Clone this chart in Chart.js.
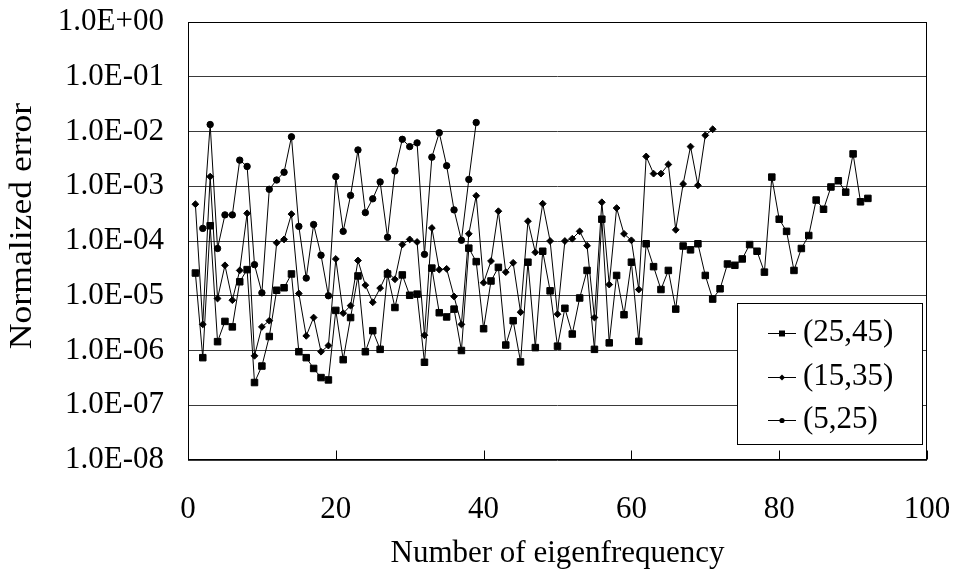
<!DOCTYPE html>
<html>
<head>
<meta charset="utf-8">
<script src="https://cdn.jsdelivr.net/npm/chart.js@4.4.1/dist/chart.umd.min.js"></script>
<style>
  html, body { margin: 0; padding: 0; background: #ffffff; }
  #c { display: block; }
</style>
</head>
<body>
<canvas id="c" width="955" height="578"></canvas>
<script>
// ---------- data ----------
const seriesNames = ['(25,45)', '(15,35)', '(5,25)'];

// eigenfrequency number n = 1, 2, 3, ... (index + 1)
const err25_45 = [
  2.6e-5, 7.4e-7, 1.9e-4, 1.45e-6, 3.4e-6, 2.7e-6, 1.8e-5, 3.0e-5, 2.6e-7, 5.2e-7,
  1.8e-6, 1.26e-5, 1.4e-5, 2.5e-5, 9.5e-7, 7.4e-7, 4.7e-7, 3.2e-7, 2.9e-7, 5.4e-6,
  6.8e-7, 4.0e-6, 2.3e-5, 9.5e-7, 2.3e-6, 1.05e-6, 2.5e-5, 6.1e-6, 2.4e-5, 1.02e-5,
  1.07e-5, 6.1e-7, 3.2e-5, 4.9e-6, 4.1e-6, 5.7e-6, 1.0e-6, 7.4e-5, 4.2e-5, 2.5e-6,
  1.86e-5, 3.3e-5, 1.26e-6, 3.5e-6, 6.2e-7, 4.1e-5, 1.13e-6, 6.5e-5, 1.23e-5, 1.2e-6,
  5.9e-6, 2.0e-6, 9.1e-6, 2.9e-5, 1.05e-6, 2.5e-4, 1.38e-6, 2.35e-5, 4.5e-6, 4.1e-5,
  1.47e-6, 8.9e-5, 3.4e-5, 1.3e-5, 2.9e-5, 5.7e-6, 8.1e-5, 6.9e-5, 8.9e-5, 2.35e-5,
  8.7e-6, 1.34e-5, 3.8e-5, 3.6e-5, 4.7e-5, 8.6e-5, 6.5e-5, 2.7e-5, 1.47e-3, 2.5e-4,
  1.5e-4, 2.9e-5, 7.3e-5, 1.26e-4, 5.6e-4, 3.8e-4, 9.7e-4, 1.26e-3, 7.8e-4, 3.9e-3,
  5.2e-4, 6.0e-4
];
const err15_35 = [
  4.7e-4, 3.0e-6, 1.5e-3, 8.9e-6, 3.6e-5, 8.3e-6, 2.9e-5, 3.2e-4, 8.0e-7, 2.7e-6,
  3.5e-6, 9.3e-5, 1.07e-4, 3.1e-4, 1.1e-5, 1.85e-6, 4.0e-6, 9.5e-7, 1.23e-6, 4.7e-5,
  4.8e-6, 6.6e-6, 4.4e-5, 1.56e-5, 7.6e-6, 1.38e-5, 2.7e-5, 2.0e-5, 8.6e-5, 1.07e-4,
  9.6e-5, 1.9e-6, 1.73e-4, 3.0e-5, 3.1e-5, 9.7e-6, 3.0e-6, 1.35e-4, 6.7e-4, 1.73e-5,
  4.3e-5, 3.5e-4, 2.7e-5, 4.0e-5, 5.0e-6, 2.3e-4, 6.2e-5, 4.8e-4, 1.0e-4, 4.6e-6,
  1.0e-4, 1.1e-4, 1.5e-4, 8.2e-5, 4.0e-6, 5.1e-4, 1.6e-5, 4.0e-4, 1.35e-4, 1.03e-4,
  1.3e-5, 3.5e-3, 1.7e-3, 1.7e-3, 2.5e-3, 1.6e-4, 1.1e-3, 5.3e-3, 1.04e-3, 8.5e-3,
  1.1e-2
];
const err5_25 = [
  null, 1.7e-4, 1.34e-2, 7.3e-5, 3.0e-4, 3.0e-4, 3.0e-3, 2.3e-3, 3.7e-5, 1.13e-5,
  8.8e-4, 1.3e-3, 1.8e-3, 8.0e-3, 1.85e-4, 2.1e-5, 2.0e-4, 5.5e-5, 1.0e-5, 1.5e-3,
  1.5e-4, 6.8e-4, 4.6e-3, 3.3e-4, 5.9e-4, 1.2e-3, 1.17e-4, 1.9e-3, 7.2e-3, 5.3e-3,
  6.2e-3, 5.7e-5, 3.4e-3, 9.5e-3, 2.37e-3, 3.7e-4, 1.03e-4, 1.33e-3, 1.46e-2
];

const xTickValues = [0, 20, 40, 60, 80, 100];
const yTickValues = [1e0, 1e-1, 1e-2, 1e-3, 1e-4, 1e-5, 1e-6, 1e-7, 1e-8];
const yTickLabels = ['1.0E+00', '1.0E-01', '1.0E-02', '1.0E-03', '1.0E-04',
                     '1.0E-05', '1.0E-06', '1.0E-07', '1.0E-08'];
const xTitle = 'Number of eigenfrequency';
const yTitle = 'Normalized error';

// ---------- styling ----------
const FONT = "'Liberation Serif', 'Times New Roman', Times, serif";
const pointStyles = ['rect', 'rectRot', 'circle'];
const pointRadii = [4.6, 3.4, 3.2];

function toPoints(arr) {
  return arr.map((v, i) => ({ x: i + 1, y: v }));
}

const datasets = [err25_45, err15_35, err5_25].map((arr, k) => ({
  label: seriesNames[k],
  data: toPoints(arr),
  borderColor: '#000',
  backgroundColor: '#000',
  borderWidth: 1,
  pointStyle: pointStyles[k],
  pointRadius: pointRadii[k],
  pointHoverRadius: pointRadii[k],
  pointBackgroundColor: '#000',
  pointBorderColor: '#000',
  pointBorderWidth: 1,
  tension: 0,
  spanGaps: false,
  order: k
}));

function drawMarker(ctx, style, r, x, y) {
  ctx.beginPath();
  if (style === 'rect') {
    ctx.rect(x - r, y - r, 2 * r, 2 * r);
  } else if (style === 'rectRot') {
    ctx.moveTo(x, y - r); ctx.lineTo(x + r, y); ctx.lineTo(x, y + r); ctx.lineTo(x - r, y); ctx.closePath();
  } else {
    ctx.arc(x, y, r, 0, Math.PI * 2);
  }
  ctx.fill();
}

const framePlugin = {
  id: 'frame',
  afterDatasetsDraw(chart) {
    const ctx = chart.ctx;
    const a = chart.chartArea;
    const xs = chart.scales.x;
    ctx.save();
    // frame
    ctx.strokeStyle = '#000';
    ctx.lineWidth = 1;
    const L = Math.round(a.left) + 0.5, T = Math.round(a.top) + 0.5;
    const R = Math.round(a.right) - 0.5, B = Math.round(a.bottom) - 0.5;
    ctx.strokeRect(L, T, R - L, B - T);
    // inward x tick marks
    ctx.beginPath();
    xTickValues.forEach(v => {
      const px = Math.round(xs.getPixelForValue(v)) + 0.5;
      ctx.moveTo(px, B);
      ctx.lineTo(px, B - 9);
    });
    ctx.stroke();

    // legend box
    const lx = 737, ly = 303, lw = 185, lh = 141;
    ctx.fillStyle = '#fff';
    ctx.fillRect(lx, ly, lw, lh);
    ctx.strokeStyle = '#000';
    ctx.strokeRect(lx + 0.5, ly + 0.5, lw, lh);
    const rowsY = [333, 376.5, 420];
    const legR = [3, 3, 2.6];
    ctx.font = '31px ' + FONT;
    ctx.textBaseline = 'middle';
    ctx.textAlign = 'left';
    chart.data.datasets.forEach((ds, k) => {
      const y = rowsY[k];
      ctx.strokeStyle = '#000';
      ctx.beginPath();
      ctx.moveTo(768, Math.round(y) + 0.5);
      ctx.lineTo(796, Math.round(y) + 0.5);
      ctx.stroke();
      ctx.fillStyle = '#000';
      drawMarker(ctx, ds.pointStyle, legR[k], 782, Math.round(y) + 0.5);
      ctx.fillText(ds.label, 803, y);
    });

    // y axis title (slightly elongated as in the reference)
    ctx.translate(23, 226);
    ctx.rotate(-Math.PI / 2);
    ctx.scale(1.15, 1);
    ctx.font = '31px ' + FONT;
    ctx.textAlign = 'center';
    ctx.textBaseline = 'middle';
    ctx.fillStyle = '#000';
    ctx.fillText(yTitle, 0, 0);
    ctx.restore();
  }
};

new Chart(document.getElementById('c'), {
  type: 'line',
  data: { datasets },
  options: {
    responsive: false,
    animation: false,
    devicePixelRatio: 1,
    layout: { padding: { left: 0, top: 22, right: 28, bottom: 0 } },
    plugins: { legend: { display: false }, tooltip: { enabled: false } },
    events: [],
    scales: {
      x: {
        type: 'linear',
        min: 0, max: 100,
        afterBuildTicks: s => { s.ticks = xTickValues.map(v => ({ value: v })); },
        ticks: { color: '#000', padding: 31, font: { family: FONT, size: 31 }, maxRotation: 0 },
        grid: { display: false, drawTicks: false },
        border: { display: false },
        title: { display: true, text: xTitle, color: '#000', font: { family: FONT, size: 31 }, padding: { top: 0, bottom: 6 } },
        afterFit: s => { s.height = 118; s.paddingLeft = 0; s.paddingRight = 0; }
      },
      y: {
        type: 'logarithmic',
        min: 1e-8, max: 1,
        afterBuildTicks: s => { s.ticks = yTickValues.map(v => ({ value: v })); },
        ticks: {
          color: '#000', padding: 24, font: { family: FONT, size: 31 },
          callback: (v) => {
            const i = yTickValues.findIndex(t => Math.abs(Math.log10(t) - Math.log10(v)) < 1e-6);
            return i >= 0 ? yTickLabels[i] : '';
          }
        },
        grid: { color: '#3a3a3a', lineWidth: 1, drawTicks: false },
        border: { display: false },
        title: { display: false },
        afterFit: s => { s.width = 188; s.paddingTop = 0; s.paddingBottom = 0; }
      }
    }
  },
  plugins: [framePlugin]
});
</script>
</body>
</html>
